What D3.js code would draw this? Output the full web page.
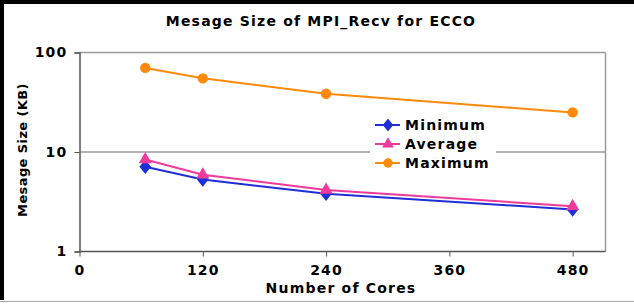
<!DOCTYPE html>
<html>
<meta charset="utf-8">
<style>
  body { margin: 0; background: #fff; }
  text { font-family: "DejaVu Sans", Verdana, sans-serif; font-weight: bold; fill: #000; }
</style>
<script src="https://d3js.org/d3.v7.min.js"></script>
<body>
<script>
var width = 634, height = 304;

var cores = [64, 120, 240, 480];
var minimum = [7.1, 5.3, 3.8, 2.65];
var average = [8.4, 5.9, 4.15, 2.85];
var maximum = [70, 55, 38.5, 25];
var xTicks = [0, 120, 240, 360, 480];
var yTicks = [1, 10, 100];

var series = [
  { name: "Minimum", values: minimum, color: "#1f2fd8", marker: d3.symbolDiamond },
  { name: "Average", values: average, color: "#ee3a9a", marker: d3.symbolTriangle },
  { name: "Maximum", values: maximum, color: "#ff8a0a", marker: d3.symbolCircle }
];

var svg = d3.select("body").append("svg")
  .attr("width", width)
  .attr("height", height);

// outer frame
svg.append("line").attr("x1", 2).attr("x2", 2).attr("y1", 0).attr("y2", 300)
  .attr("stroke", "#000").attr("stroke-width", 4);
svg.append("line").attr("x1", 0).attr("x2", width).attr("y1", 2).attr("y2", 2)
  .attr("stroke", "#000").attr("stroke-width", 4);
svg.append("line").attr("x1", 0).attr("x2", width).attr("y1", 301.5).attr("y2", 301.5)
  .attr("stroke", "#aaa").attr("stroke-width", 1);

var x = d3.scaleLinear().domain([0, 512]).range([79.5, 605.5]);
var y = d3.scaleLog().domain([1, 100]).range([251.5, 52.5]);

// gridlines and border
svg.selectAll(".grid").data(yTicks.slice(1)).enter().append("line")
  .attr("x1", x(0)).attr("x2", x(512))
  .attr("y1", function(d) { return y(d); }).attr("y2", function(d) { return y(d); })
  .attr("stroke", "#9a9a9a").attr("stroke-width", 1.5);
svg.append("line").attr("x1", x(512)).attr("x2", x(512)).attr("y1", y(100)).attr("y2", y(1))
  .attr("stroke", "#9a9a9a").attr("stroke-width", 1.5);

// axes
var xAxis = svg.append("g").attr("transform", "translate(0," + y(1) + ")")
  .call(d3.axisBottom(x).tickValues(xTicks).tickSize(5).tickPadding(9));
var yAxis = svg.append("g").attr("transform", "translate(" + x(0) + ",0)")
  .call(d3.axisLeft(y).tickValues(yTicks).tickFormat(d3.format("d")).tickSize(5).tickPadding(7));
[xAxis, yAxis].forEach(function(a) {
  a.select(".domain").attr("stroke", "#555").attr("stroke-width", 1.5);
  a.selectAll(".tick line").attr("stroke", "#555");
  a.selectAll("text").style("font-size", "14px").style("letter-spacing", "1.2px")
    .style("font-family", "'DejaVu Sans', Verdana, sans-serif").style("font-weight", "bold");
});
xAxis.select(".domain").attr("d", "M" + x(0) + ",0H" + x(512));

// lines and markers
var line = d3.line()
  .x(function(d, i) { return x(cores[i]); })
  .y(function(d) { return y(d); });

series.forEach(function(s) {
  svg.append("path").datum(s.values)
    .attr("d", line)
    .attr("fill", "none")
    .attr("stroke", s.color)
    .attr("stroke-width", 2);
  svg.selectAll(null).data(s.values).enter().append("path")
    .attr("d", d3.symbol().type(s.marker).size(s.marker === d3.symbolCircle ? 85 : 75))
    .attr("transform", function(d, i) {
      var sc = s.marker === d3.symbolDiamond ? " scale(1.25,0.9)" : "";
      return "translate(" + x(cores[i]) + "," + y(d) + ")" + sc;
    })
    .attr("fill", s.color);
});

// legend
var legend = svg.append("g");
legend.append("rect").attr("x", 370).attr("y", 114).attr("width", 126).attr("height", 58).attr("fill", "#fff");
series.forEach(function(s, i) {
  var ly = 125 + i * 19;
  legend.append("line").attr("x1", 375).attr("x2", 400).attr("y1", ly).attr("y2", ly)
    .attr("stroke", s.color).attr("stroke-width", 2);
  legend.append("path")
    .attr("d", d3.symbol().type(s.marker).size(s.marker === d3.symbolCircle ? 70 : 60))
    .attr("transform", "translate(388," + ly + ")" + (s.marker === d3.symbolDiamond ? " scale(1.25,0.9)" : ""))
    .attr("fill", s.color);
  legend.append("text").attr("x", 405).attr("y", ly + 5)
    .style("font-size", "14px").style("letter-spacing", "1.2px").text(s.name);
});

// titles
svg.append("text").attr("x", 321).attr("y", 26).attr("text-anchor", "middle")
  .style("font-size", "14px").style("letter-spacing", "1.2px")
  .text("Mesage Size of MPI_Recv for ECCO");
svg.append("text").attr("x", 341).attr("y", 293).attr("text-anchor", "middle")
  .style("font-size", "14px").style("letter-spacing", "1.2px").text("Number of Cores");
svg.append("text").attr("transform", "translate(27,150) rotate(-90)").attr("text-anchor", "middle")
  .style("font-size", "13px").style("letter-spacing", "0.4px").text("Mesage Size (KB)");
</script>
</body>
</html>
